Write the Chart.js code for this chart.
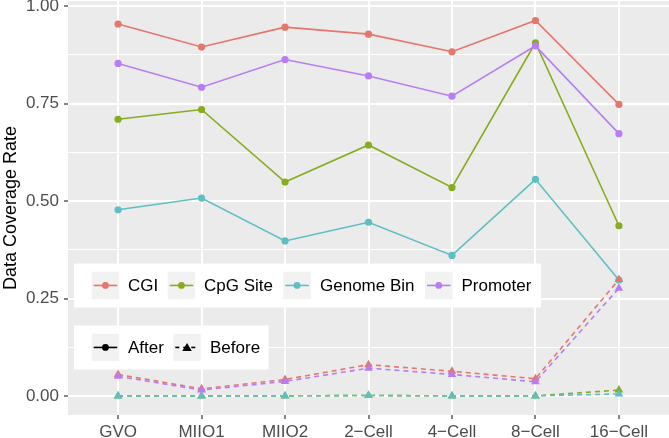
<!DOCTYPE html>
<html lang="en">
<head>
    <meta charset="UTF-8">
    <title>Data Coverage Rate</title>
    <script src="https://cdn.jsdelivr.net/npm/chart.js@4.4.1/dist/chart.umd.min.js"></script>
    <style>
        body {
            margin: 0;
            background-color: #ffffff;
        }
        .wrap {
            width: 669px;
            height: 438px;
        }
    </style>
</head>
<body>
    <div class="wrap">
        <canvas id="coverageChart" width="669" height="438"></canvas>
    </div>

    <script>
        const stages = ['GVO', 'MIIO1', 'MIIO2', '2\u2212Cell', '4\u2212Cell', '8\u2212Cell', '16\u2212Cell'];
        const features = ['CGI', 'CpG Site', 'Genome Bin', 'Promoter'];
        const yTicks = [0, 0.125, 0.25, 0.375, 0.5, 0.625, 0.75, 0.875, 1.0];

        // coverage after processing
        const cgiAfter      = [0.954, 0.895, 0.946, 0.928, 0.883, 0.963, 0.748];
        const cpgAfter      = [0.710, 0.735, 0.549, 0.644, 0.535, 0.906, 0.437];
        const binAfter      = [0.478, 0.508, 0.398, 0.446, 0.361, 0.556, 0.298];
        const promoterAfter = [0.853, 0.792, 0.863, 0.821, 0.769, 0.898, 0.673];

        // coverage before processing
        const cgiBefore      = [0.056, 0.019, 0.043, 0.081, 0.064, 0.045, 0.299];
        const cpgBefore      = [0.001, 0.001, 0.001, 0.002, 0.001, 0.001, 0.016];
        const binBefore      = [0.001, 0.001, 0.001, 0.002, 0.001, 0.001, 0.006];
        const promoterBefore = [0.051, 0.016, 0.038, 0.072, 0.056, 0.037, 0.277];

        const colors = ['#E4766B', '#86AC1F', '#5DBFC4', '#B87DF4'];
        const afterSets = [cgiAfter, cpgAfter, binAfter, promoterAfter];
        const beforeSets = [cgiBefore, cpgBefore, binBefore, promoterBefore];

        const FONT = '"Liberation Sans", Arial, sans-serif';

        function toPoints(values) {
            return values.map((v, i) => ({ x: i, y: v }));
        }

        const datasets = [];
        features.forEach((name, i) => {
            datasets.push({
                label: name + ' After',
                data: toPoints(afterSets[i]),
                borderColor: colors[i],
                backgroundColor: colors[i],
                borderWidth: 1.6,
                pointStyle: 'circle',
                pointRadius: 3.6,
                pointBorderWidth: 0,
                order: 8 - i
            });
        });
        features.forEach((name, i) => {
            datasets.push({
                label: name + ' Before',
                data: toPoints(beforeSets[i]),
                borderColor: colors[i],
                backgroundColor: colors[i],
                borderWidth: 1.6,
                borderDash: [5, 4],
                pointStyle: 'triangle',
                pointRadius: 5,
                pointBorderWidth: 0,
                order: 4 - i
            });
        });

        const panelBackground = {
            id: 'panelBackground',
            beforeDraw(chart) {
                const { ctx, chartArea: a } = chart;
                ctx.save();
                ctx.fillStyle = '#EBEBEB';
                ctx.fillRect(a.left, a.top, a.right - a.left, a.bottom - a.top);
                ctx.restore();
            }
        };

        // draws a legend key (grey square + line + marker)
        function drawKey(ctx, x, y, color, dashed, shape) {
            ctx.fillStyle = '#F2F2F2';
            ctx.fillRect(x, y, 27.5, 27.5);
            const cy = y + 13.75;
            ctx.strokeStyle = color;
            ctx.lineWidth = 1.6;
            ctx.setLineDash(dashed ? [4, 4] : []);
            ctx.beginPath();
            ctx.moveTo(x + 2, cy);
            ctx.lineTo(x + 25.5, cy);
            ctx.stroke();
            ctx.setLineDash([]);
            ctx.fillStyle = color;
            ctx.beginPath();
            if (shape === 'triangle') {
                ctx.moveTo(x + 13.75, cy - 4.5);
                ctx.lineTo(x + 18.5, cy + 3.5);
                ctx.lineTo(x + 9, cy + 3.5);
                ctx.closePath();
            } else {
                ctx.arc(x + 13.75, cy, 3.4, 0, Math.PI * 2);
            }
            ctx.fill();
        }

        const insideLegend = {
            id: 'insideLegend',
            afterDraw(chart) {
                const ctx = chart.ctx;
                ctx.save();
                ctx.font = '17px ' + FONT;
                ctx.textBaseline = 'middle';

                // feature legend
                ctx.fillStyle = '#ffffff';
                ctx.fillRect(74, 263.5, 467, 44);
                const keyX = [91.7, 167.7, 283.3, 425];
                const textX = [128, 204, 320, 461.5];
                features.forEach((name, i) => {
                    drawKey(ctx, keyX[i], 271.7, colors[i], false, 'circle');
                    ctx.fillStyle = '#000000';
                    ctx.fillText(name, textX[i], 286);
                });

                // before / after legend
                ctx.fillStyle = '#ffffff';
                ctx.fillRect(74, 325.5, 194.5, 44);
                drawKey(ctx, 91.7, 333.7, '#000000', false, 'circle');
                drawKey(ctx, 173.3, 333.7, '#000000', true, 'triangle');
                ctx.fillStyle = '#000000';
                ctx.fillText('After', 128, 348);
                ctx.fillText('Before', 210, 348);
                ctx.restore();
            }
        };

        const isMajor = v => Math.abs(v * 4 - Math.round(v * 4)) < 1e-6;

        new Chart(document.getElementById('coverageChart'), {
            type: 'line',
            data: { datasets: datasets },
            options: {
                responsive: false,
                animation: false,
                devicePixelRatio: 1,
                layout: {
                    autoPadding: false,
                    padding: { top: 1, right: 0, left: 0, bottom: 0 }
                },
                plugins: {
                    legend: { display: false },
                    tooltip: { enabled: false }
                },
                scales: {
                    x: {
                        type: 'linear',
                        min: -0.6,
                        max: 6.6,
                        afterBuildTicks: axis => {
                            axis.ticks = stages.map((_, i) => ({ value: i }));
                        },
                        afterFit: axis => {
                            axis.height = 23;
                            axis.paddingLeft = 0;
                            axis.paddingRight = 0;
                        },
                        border: { display: false },
                        grid: {
                            color: '#ffffff',
                            lineWidth: 2,
                            tickColor: '#333333',
                            tickLength: 4,
                            tickWidth: 1.2
                        },
                        ticks: {
                            color: '#4D4D4D',
                            font: { family: FONT, size: 17 },
                            padding: 3,
                            maxRotation: 0,
                            autoSkip: false,
                            callback: v => stages[v]
                        }
                    },
                    y: {
                        min: -0.048,
                        max: 1.013,
                        afterBuildTicks: axis => {
                            axis.ticks = yTicks.map(v => ({ value: v }));
                        },
                        afterFit: axis => {
                            axis.width = 68;
                            axis.paddingTop = 0;
                            axis.paddingBottom = 0;
                        },
                        border: { display: false },
                        title: {
                            display: true,
                            text: 'Data Coverage Rate',
                            color: '#000000',
                            font: { family: FONT, size: 18 },
                            padding: { top: 0, bottom: 2 }
                        },
                        grid: {
                            color: '#ffffff',
                            lineWidth: ctx => isMajor(ctx.tick.value) ? 2 : 1,
                            tickColor: ctx => isMajor(ctx.tick.value) ? '#333333' : 'rgba(0,0,0,0)',
                            tickLength: 4,
                            tickWidth: 1.2
                        },
                        ticks: {
                            color: '#4D4D4D',
                            font: { family: FONT, size: 17 },
                            padding: 5,
                            autoSkip: false,
                            callback: v => isMajor(v) ? v.toFixed(2) : ''
                        }
                    }
                }
            },
            plugins: [panelBackground, insideLegend]
        });
    </script>
</body>
</html>
